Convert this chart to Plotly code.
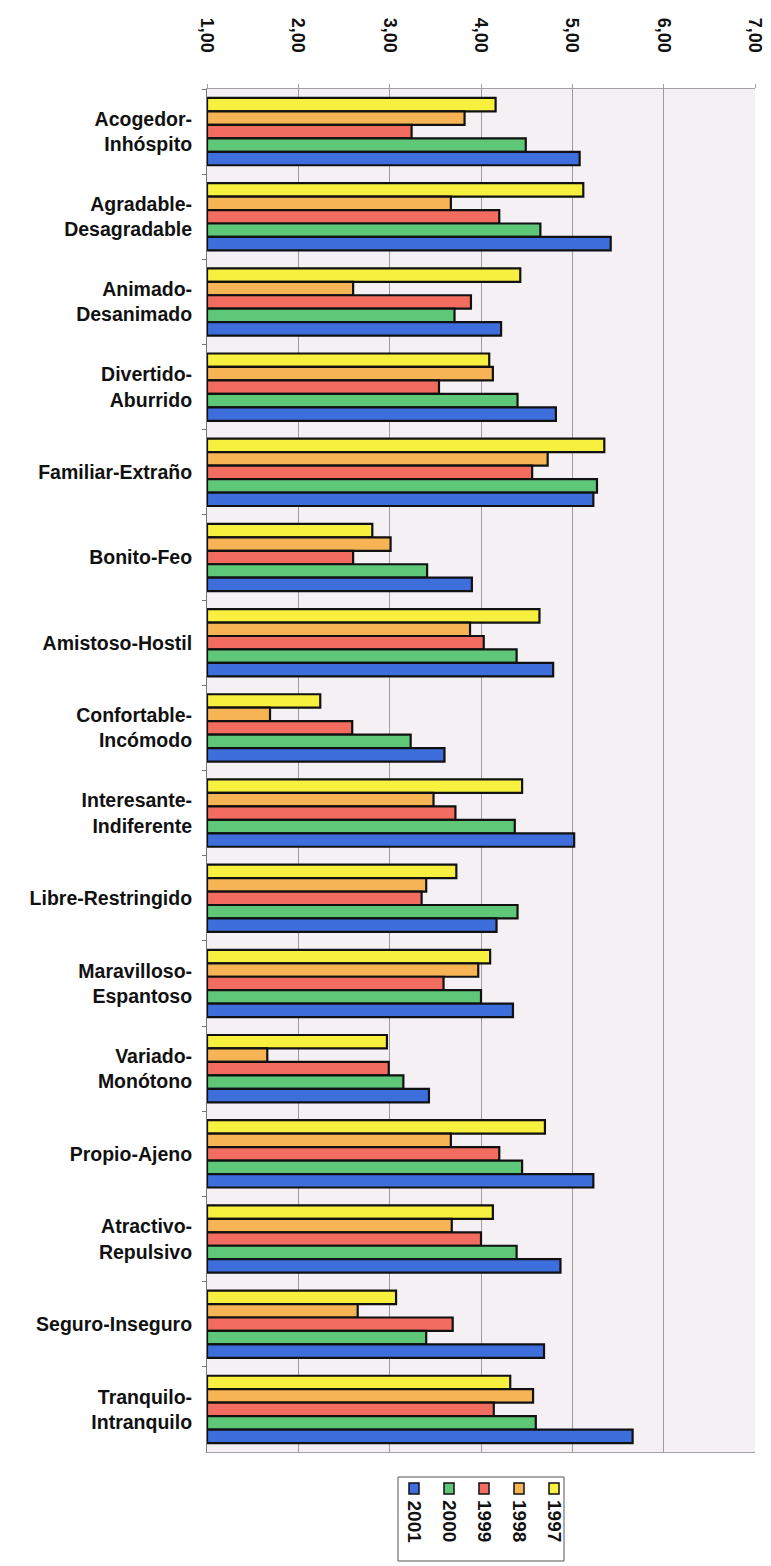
import plotly.graph_objects as go

categories = [
    "Acogedor-<br>Inhóspito", "Agradable-<br>Desagradable", "Animado-<br>Desanimado",
    "Divertido-<br>Aburrido", "Familiar-Extraño", "Bonito-Feo", "Amistoso-Hostil",
    "Confortable-<br>Incómodo", "Interesante-<br>Indiferente", "Libre-Restringido",
    "Maravilloso-<br>Espantoso", "Variado-<br>Monótono", "Propio-Ajeno",
    "Atractivo-<br>Repulsivo", "Seguro-Inseguro", "Tranquilo-<br>Intranquilo",
]

years = ["1997", "1998", "1999", "2000", "2001"]
colors = ["#F7F03E", "#F7B455", "#F26D60", "#5EC878", "#3E6EDC"]

v1997 = [4.16, 5.12, 4.43, 4.09, 5.35, 2.81, 4.64, 2.24, 4.45, 3.73, 4.10, 2.97, 4.70, 4.13, 3.07, 4.32]
v1998 = [3.82, 3.67, 2.60, 4.13, 4.73, 3.01, 3.88, 1.69, 3.48, 3.40, 3.97, 1.66, 3.67, 3.68, 2.65, 4.57]
v1999 = [3.24, 4.20, 3.89, 3.54, 4.56, 2.60, 4.03, 2.59, 3.72, 3.35, 3.59, 2.99, 4.20, 4.00, 3.69, 4.14]
v2000 = [4.49, 4.65, 3.71, 4.40, 5.27, 3.41, 4.39, 3.23, 4.37, 4.40, 4.00, 3.15, 4.45, 4.39, 3.40, 4.60]
v2001 = [5.08, 5.42, 4.22, 4.82, 5.23, 3.90, 4.79, 3.60, 5.02, 4.17, 4.35, 3.43, 5.23, 4.87, 4.69, 5.66]
series = [v1997, v1998, v1999, v2000, v2001]

tick_vals = [1, 2, 3, 4, 5, 6, 7]
tick_text = ["1,00", "2,00", "3,00", "4,00", "5,00", "6,00", "7,00"]

OFF = 8  # page body margin
W, H = 771 - OFF, 1566 - OFF
L, R, T, B = 207 - OFF, 755 - OFF, 89 - OFF, 1452 - OFF

fig = go.Figure()
for name, vals, col in zip(years, series, colors):
    fig.add_trace(go.Bar(
        y=categories, x=[v - 1 for v in vals], base=1, orientation="h",
        name=name, marker=dict(color=col, line=dict(color="#111111", width=2.2)),
        showlegend=False,
    ))

def px_x(p):
    return (p - OFF - L) / (R - L)

def px_y(p):
    return (B - (p - OFF)) / (B - T)

shapes = []
annotations = []
# legend box
shapes.append(dict(type="rect", xref="paper", yref="paper",
                   x0=px_x(398), x1=px_x(564), y0=px_y(1477), y1=px_y(1561),
                   line=dict(color="#555555", width=1), fillcolor="white"))
leg_order = list(range(len(years)))[::-1]
for i, idx in enumerate(leg_order):
    cx = 414 + i * 35
    shapes.append(dict(type="rect", xref="paper", yref="paper",
                       x0=px_x(cx - 5), x1=px_x(cx + 5), y0=px_y(1483), y1=px_y(1494),
                       line=dict(color="#111111", width=1.5), fillcolor=colors[idx]))
    annotations.append(dict(xref="paper", yref="paper", x=px_x(cx), y=px_y(1498),
                            text=years[idx], textangle=90, showarrow=False,
                            xanchor="center", yanchor="top",
                            font=dict(family="Liberation Sans, Arial", size=19,
                                      color="#111111", weight="bold")))

fig.update_layout(
    width=W, height=H,
    margin=dict(l=L, r=W - R, t=T, b=H - B, autoexpand=False),
    paper_bgcolor="white", plot_bgcolor="#F4F0F4",
    barmode="group", bargap=0.21, bargroupgap=0,
    separators=",.",
    shapes=shapes, annotations=annotations,
    showlegend=False,
)
fig.update_xaxes(
    range=[1, 7], side="top", tickvals=tick_vals, ticktext=tick_text,
    tickangle=90, showgrid=True, gridcolor="#9C9AA2", gridwidth=1,
    showline=True, linecolor="#A0A0A8", linewidth=1, mirror=True,
    ticks="outside", ticklen=4, tickcolor="#A0A0A8", ticklabelstandoff=25,
    tickfont=dict(family="Liberation Sans, Arial", size=18, color="#111111", weight="bold"),
    zeroline=False, automargin=False,
)
fig.update_yaxes(
    autorange="reversed", showline=True, linecolor="#777777", linewidth=1,
    ticks="outside", tickson="boundaries", ticklen=4, tickcolor="#777777",
    ticklabelstandoff=10, showgrid=False, automargin=False,
    tickfont=dict(family="Liberation Sans, Arial", size=19.5, color="#111111", weight="bold"),
)

fig.write_html("out.html")
